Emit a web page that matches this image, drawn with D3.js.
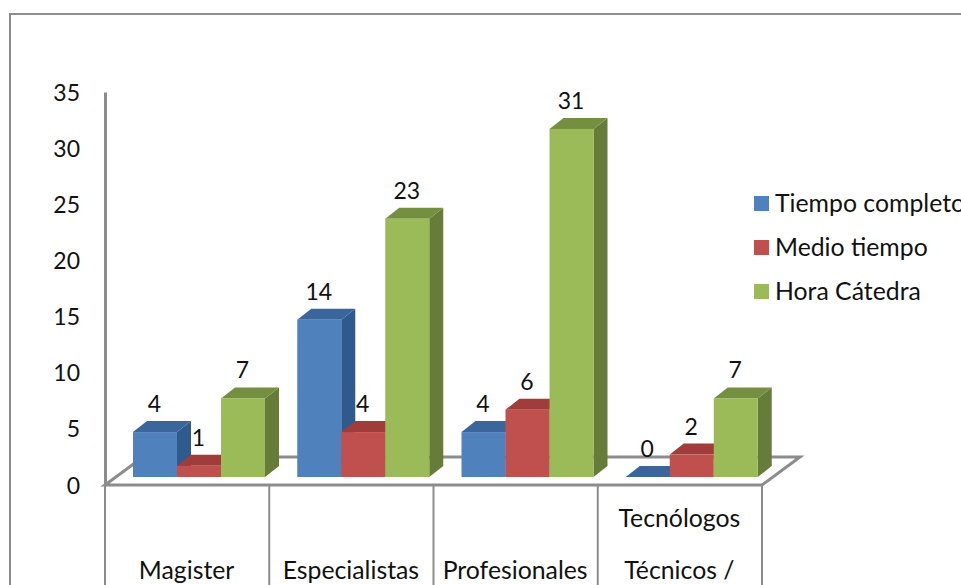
<!DOCTYPE html>
<html>
<head>
<meta charset="utf-8">
<script src="https://d3js.org/d3.v7.min.js"></script>
<style>
body { margin:0; background:#fff; overflow:hidden; }
text { font-family:Lato, 'Open Sans', sans-serif; fill:#111; }
</style>
</head>
<body>
<div id="chart"></div>
<script>
// data
var categories = ["Magister", "Especialistas", "Profesionales", "Técnicos"];
var categoryLines = [["Magister"], ["Especialistas"], ["Profesionales"], ["Tecnólogos", "Técnicos /"]];
var seriesNames = ["Tiempo completo", "Medio tiempo", "Hora Cátedra"];
var tiempoCompleto = [4, 14, 4, 0];
var medioTiempo = [1, 4, 6, 2];
var horaCatedra = [7, 23, 31, 7];
var yTicks = [0, 5, 10, 15, 20, 25, 30, 35];

var seriesValues = [tiempoCompleto, medioTiempo, horaCatedra];
var front = ["#4f81bd", "#c0504d", "#9bbb59"];
var side = ["#2f5a8e", "#8f3a38", "#667d39"];
var topFace = ["#3a669b", "#a03c3a", "#748f40"];
var grey = "#8c8c8c";

// Lato digits run wider than its letters compared to the original font
var numberSize = 23;
var wordSize = 24.8;

var svg = d3.select("#chart").append("svg")
  .attr("width", 961)
  .attr("height", 585);

// outer frame, cut by the picture on the right and bottom
svg.append("path")
  .attr("d", "M10,585V14H961")
  .attr("fill", "none")
  .attr("stroke", grey)
  .attr("stroke-width", 2);

var x = d3.scaleBand().domain(categories).range([105, 762]);
var y = d3.scaleLinear().domain([0, 35]).range([485, 92]);
var inner = d3.scaleBand().domain(d3.range(3)).range([28, 160]);

// bars sit a bit behind the front edge of the floor
var floorShift = 8;
var depthX = 14, depthY = 11;
var floorX = 38, floorY = 28;

// floor
svg.append("path")
  .attr("d", d3.line()([[105, 485], [105 + floorX, 485 - floorY], [762 + floorX, 485 - floorY], [762, 485]]) + "Z")
  .attr("fill", "#fff")
  .attr("stroke", grey)
  .attr("stroke-width", 3)
  .attr("stroke-linejoin", "miter");

// value axis
var axis = svg.append("g")
  .attr("transform", "translate(105,0)")
  .call(d3.axisLeft(y).tickValues(yTicks).tickSize(0).tickPadding(25));
axis.select(".domain").attr("stroke", grey).attr("stroke-width", 3);
axis.selectAll("text")
  .style("font-size", numberSize + "px")
  .attr("dy", "0.35em");

// category separators
svg.append("g").selectAll("line")
  .data(x.domain().map(function(d) { return x(d); }).concat([762]))
  .enter()
  .append("line")
    .attr("x1", function(d) { return d; })
    .attr("x2", function(d) { return d; })
    .attr("y1", 485)
    .attr("y2", 585)
    .attr("stroke", grey)
    .attr("stroke-width", 2);

// category labels, last one wraps bottom to top
categories.forEach(function(c, i) {
  var lines = categoryLines[i];
  lines.forEach(function(t, j) {
    svg.append("text")
      .attr("x", x(c) + x.bandwidth() / 2 - 0.5)
      .attr("y", 570 - 52 * (lines.length - 1 - j))
      .attr("dy", "0.35em")
      .attr("text-anchor", "middle")
      .style("font-size", wordSize + "px")
      .text(t);
  });
});

// 3d bars
categories.forEach(function(c, i) {
  seriesValues.forEach(function(vals, s) {
    var x0 = x(c) + inner(s);
    var x1 = x0 + inner.bandwidth();
    var yb = y(0) - floorShift;
    var yt = y(vals[i]) - floorShift;
    var g = svg.append("g");
    g.append("path")
      .attr("d", d3.line()([[x1, yt], [x1 + depthX, yt - depthY], [x1 + depthX, yb - depthY], [x1, yb]]) + "Z")
      .attr("fill", side[s]);
    g.append("path")
      .attr("d", d3.line()([[x0, yt], [x0 + depthX, yt - depthY], [x1 + depthX, yt - depthY], [x1, yt]]) + "Z")
      .attr("fill", topFace[s]);
    g.append("rect")
      .attr("x", x0)
      .attr("y", yt)
      .attr("width", x1 - x0)
      .attr("height", yb - yt)
      .attr("fill", front[s]);
  });
});

// value labels go last so bars never hide them
categories.forEach(function(c, i) {
  seriesValues.forEach(function(vals, s) {
    svg.append("text")
      .attr("x", x(c) + inner(s) + inner.bandwidth() / 2 - 0.5)
      .attr("y", y(vals[i]) - floorShift - 28)
      .attr("dy", "0.35em")
      .attr("text-anchor", "middle")
      .style("font-size", numberSize + "px")
      .text(vals[i]);
  });
});

// legend
var legend = svg.append("g").selectAll("g")
  .data(seriesNames)
  .enter()
  .append("g")
    .attr("transform", function(d, i) { return "translate(754," + (196 + i * 44) + ")"; });
legend.append("rect")
  .attr("width", 15)
  .attr("height", 15)
  .attr("fill", function(d, i) { return front[i]; });
legend.append("text")
  .attr("x", 21)
  .attr("y", 7)
  .attr("dy", "0.35em")
  .style("font-size", wordSize + "px")
  .text(function(d) { return d; });
</script>
</body>
</html>
